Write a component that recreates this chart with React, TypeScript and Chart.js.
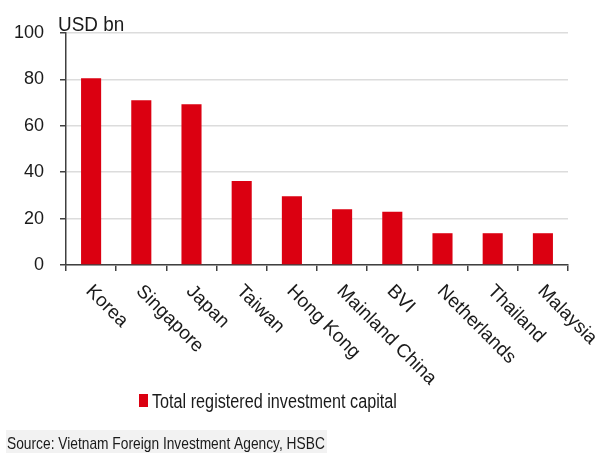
import React, { useEffect, useRef } from "react";
import { Chart, registerables } from "chart.js";

Chart.register(...registerables);

const categories = ["Korea", "Singapore", "Japan", "Taiwan", "Hong Kong", "Mainland China", "BVI", "Netherlands", "Thailand", "Malaysia"];
const investment = [80.5, 71, 69.3, 36.2, 29.6, 24, 23, 13.7, 13.7, 13.7];
const yTicks = [0, 20, 40, 60, 80, 100];
const seriesLabel = "Total registered investment capital";
const unitLabel = "USD bn";
const sourceText = "Source: Vietnam Foreign Investment Agency, HSBC";

const RED = "#DB0011";
const TEXT = "#1a1a1a";
const FONT = '"Liberation Sans", Arial, sans-serif';

const decorPlugin = {
  id: "decor",
  afterDraw(chart: any) {
    const ctx = chart.ctx as CanvasRenderingContext2D;
    const xs = chart.scales.x;
    const area = chart.chartArea;
    ctx.save();
    ctx.fillStyle = TEXT;

    // rotated category labels (down-right)
    ctx.font = `19px ${FONT}`;
    ctx.textAlign = "left";
    ctx.textBaseline = "alphabetic";
    categories.forEach((c, i) => {
      const x = xs.getPixelForValue(i);
      ctx.save();
      ctx.translate(x - 6, area.bottom + 27);
      ctx.rotate(Math.PI / 4);
      ctx.fillText(c, 0, 0);
      ctx.restore();
    });

    // unit label
    ctx.save();
    ctx.font = `21px ${FONT}`;
    ctx.translate(58, 31);
    ctx.scale(0.9, 1);
    ctx.fillText(unitLabel, 0, 0);
    ctx.restore();

    // legend
    ctx.fillStyle = RED;
    ctx.fillRect(139, 394, 9, 13);
    ctx.fillStyle = TEXT;
    ctx.save();
    ctx.font = `20px ${FONT}`;
    ctx.translate(152, 408);
    ctx.scale(0.81, 1);
    ctx.fillText(seriesLabel, 0, 0);
    ctx.restore();

    // source
    ctx.fillStyle = "#f2f2f2";
    ctx.fillRect(6, 430, 321, 23);
    ctx.fillStyle = TEXT;
    ctx.save();
    ctx.font = `17px ${FONT}`;
    ctx.translate(7, 449);
    ctx.scale(0.81, 1);
    ctx.fillText(sourceText, 0, 0);
    ctx.restore();

    ctx.restore();
  },
};

export default function App() {
  const ref = useRef<HTMLCanvasElement>(null);
  useEffect(() => {
    if (!ref.current) return;
    const chart = new Chart(ref.current, {
      type: "bar",
      data: {
        labels: categories,
        datasets: [
          {
            label: seriesLabel,
            data: investment,
            backgroundColor: RED,
            borderWidth: 0,
            barPercentage: 0.8,
            categoryPercentage: 0.5,
          },
        ],
      },
      options: {
        responsive: false,
        animation: false,
        layout: { padding: { left: 0, right: 44, top: 33, bottom: 0 } },
        plugins: { legend: { display: false }, tooltip: { enabled: false } },
        scales: {
          x: {
            offset: true,
            ticks: { display: false },
            grid: {
              offset: true,
              drawOnChartArea: false,
              drawTicks: true,
              tickLength: 6,
              tickColor: "#404040",
              lineWidth: 1.5,
            },
            border: { color: "#404040", width: 1.5 },
            afterFit: (s: any) => {
              s.height = 194;
            },
          },
          y: {
            min: 0,
            max: 100,
            afterBuildTicks: (s: any) => {
              s.ticks = yTicks.map((v) => ({ value: v }));
            },
            ticks: {
              color: TEXT,
              font: { family: FONT, size: 18 },
              padding: 16,
            },
            grid: {
              color: "#dcdcdc",
              lineWidth: 1.5,
              tickLength: 6,
              tickColor: "#404040",
            },
            border: { color: "#404040", width: 1.5 },
            afterFit: (s: any) => {
              s.width = 66;
            },
          },
        },
      },
      plugins: [decorPlugin],
    });
    return () => chart.destroy();
  }, []);
  return (
    <div style={{ position: "fixed", left: 0, top: 0, width: 612, height: 459, background: "#fff" }}>
      <canvas ref={ref} width={612} height={459} style={{ display: "block", width: 612, height: 459 }} />
    </div>
  );
}
